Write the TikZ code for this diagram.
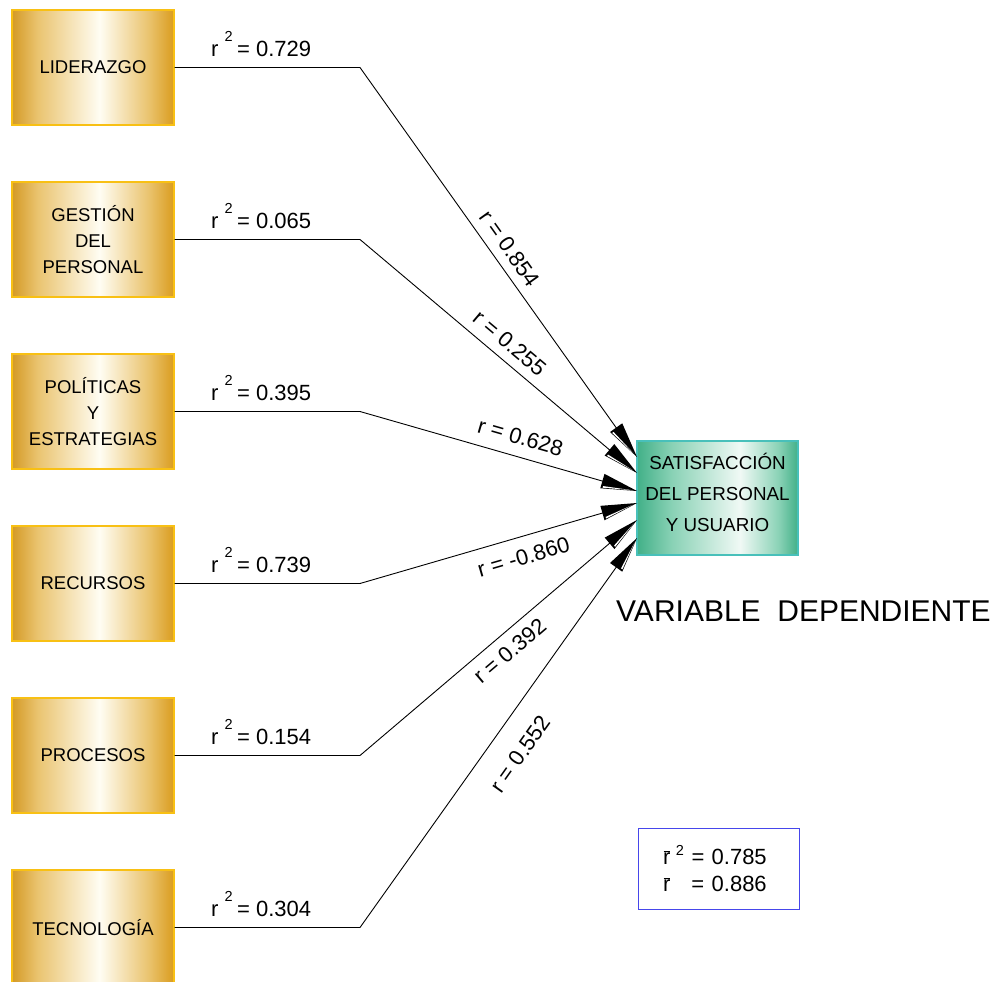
\documentclass[tikz,border=0pt]{standalone}
\usepackage{fontspec}
\setmainfont{Liberation Sans}
\usetikzlibrary{arrows.meta}

% colour palette
\definecolor{goldDark}{RGB}{212,154,38}
\definecolor{goldDarkR}{RGB}{218,156,30}
\definecolor{goldMid}{RGB}{234,196,112}
\definecolor{goldLight}{RGB}{255,253,243}
\definecolor{goldEdge}{RGB}{248,192,20}
\definecolor{greenDark}{RGB}{66,176,136}
\definecolor{greenMid}{RGB}{138,210,182}
\definecolor{greenLight}{RGB}{240,249,245}
\definecolor{greenEdge}{RGB}{72,192,186}
\definecolor{legendBlue}{RGB}{70,70,235}

% metallic gold and green fills, light band a little right of centre
\pgfdeclarehorizontalshading{goldbar}{100bp}{color(0bp)=(goldDark); color(25bp)=(goldDark); color(33bp)=(goldMid); color(52bp)=(goldLight); color(67bp)=(goldMid); color(75bp)=(goldDarkR); color(100bp)=(goldDarkR)}
\pgfdeclarehorizontalshading{greenbar}{100bp}{color(0bp)=(greenDark); color(25bp)=(greenDark); color(36bp)=(greenMid); color(57bp)=(greenLight); color(69bp)=(greenMid); color(75bp)=(greenDark); color(100bp)=(greenDark)}

% long black wedge with a thin light sliver along its lower edge
\pgfdeclarearrow{
  name = Wedge3D,
  setup code = {
    \pgfarrowssettipend{0pt}
    \pgfarrowssetlineend{-12pt}
    \pgfarrowssetbackend{-36pt}
    \pgfarrowssetvisualbackend{-36pt}
    \pgfarrowshullpoint{0pt}{0pt}
    \pgfarrowshullpoint{-36pt}{7.5pt}
    \pgfarrowshullpoint{-36pt}{-7.5pt}
  },
  drawing code = {
    \pgfsetfillcolor{black}
    \pgfpathmoveto{\pgfqpoint{0pt}{0pt}}
    \pgfpathlineto{\pgfqpoint{-36pt}{7.5pt}}
    \pgfpathlineto{\pgfqpoint{-36pt}{-7.5pt}}
    \pgfpathclose
    \pgfusepathqfill
    \pgfsetfillcolor{white}
    \pgfpathmoveto{\pgfqpoint{-5pt}{-0.6pt}}
    \pgfpathlineto{\pgfqpoint{-34pt}{-4.6pt}}
    \pgfpathlineto{\pgfqpoint{-34pt}{-6.3pt}}
    \pgfpathclose
    \pgfusepathqfill
  }
}

% r with a bar over it
\newcommand\rbarglyph{\makebox[0pt][l]{\hspace{0.5pt}\rule[12.6pt]{6.5pt}{0.9pt}}r}
\newcommand\sqmark{\raisebox{15.5pt}{\fontsize{14.5}{14.5}\selectfont 2}}

\tikzset{
  srcbox/.style={draw=goldEdge, line width=1.2pt, shading=goldbar,
    minimum width=162pt, minimum height=115pt, inner sep=0pt,
    align=center, font=\fontsize{18.5}{26}\selectfont},
  dstbox/.style={draw=greenEdge, line width=1.6pt, shading=greenbar,
    minimum width=161pt, minimum height=114pt, inner sep=0pt,
    align=center, text depth=12pt, font=\fontsize{18.8}{31}\selectfont},
  link/.style={draw=black, line width=0.9pt, line join=miter},
  arr/.style={-{Wedge3D}},
  rlab/.style={sloped, inner sep=1pt, font=\fontsize{22}{22}\selectfont},
  sqlab/.style={anchor=base west, inner sep=0pt, font=\fontsize{22}{22}\selectfont},
  legend/.style={draw=legendBlue, line width=1pt, minimum width=161pt,
    minimum height=81pt, inner sep=0pt, text width=111pt, align=left,
    font=\fontsize{22}{27}\selectfont},
}

\begin{document}
\begin{tikzpicture}[x=1pt,y=-1pt]
\useasboundingbox (0,0) rectangle (1004,982);
\clip (0,0) rectangle (1004,982);

% independent variables
\node[srcbox] (lid) at (93,67.5)  {LIDERAZGO};
\node[srcbox] (ges) at (93,239.5) {GESTIÓN\\DEL\\PERSONAL};
\node[srcbox] (pol) at (93,411.5) {POLÍTICAS\\Y\\ESTRATEGIAS};
\node[srcbox] (rec) at (93,583.5) {RECURSOS};
\node[srcbox] (pro) at (93,755.5) {PROCESOS};
\node[srcbox] (tec) at (93,927.5) {TECNOLOGÍA};

% dependent variable
\node[dstbox] (sat) at (717.5,498) {SATISFACCIÓN\\DEL PERSONAL\\Y USUARIO};
\node[anchor=base west, inner sep=0pt, font=\fontsize{30}{30}\selectfont]
  (dep) at (616,621) {VARIABLE\ \ DEPENDIENTE};

% elbows where the horizontal runs turn towards the target
\coordinate (b1) at (360,67.5);
\coordinate (b2) at (360,239.5);
\coordinate (b3) at (360,411.5);
\coordinate (b4) at (360,583.5);
\coordinate (b5) at (360,755.5);
\coordinate (b6) at (360,927.5);

% arrow ends on the left side of the target box
\coordinate (t1) at (637,457);
\coordinate (t2) at (637,473);
\coordinate (t3) at (637,491);
\coordinate (t4) at (637,503);
\coordinate (t5) at (637,520);
\coordinate (t6) at (637,538);

% connectors with correlation labels
\draw[link,arr] (lid.east) -- (b1) -- node[rlab, pos=0.49, above=8pt] {r = 0.854} (t1);
\draw[link,arr] (ges.east) -- (b2) -- node[rlab, pos=0.50, above=8pt] {r = 0.255} (t2);
\draw[link,arr] (pol.east) -- (b3) -- node[rlab, pos=0.56, above=10.5pt] {r = 0.628} (t3);
\draw[link,arr] (rec.east) -- (b4) -- node[rlab, pos=0.57, below=11pt] {r = -0.860} (t4);
\draw[link,arr] (pro.east) -- (b5) -- node[rlab, pos=0.50, below=8pt] {r = 0.392} (t5);
\draw[link,arr] (tec.east) -- (b6) -- node[rlab, pos=0.49, below=21pt] {r = 0.552} (t6);

% coefficients of determination
\node[sqlab] (q1) at (211,56.5)  {r\hspace{6pt}\sqmark\hspace{4.5pt}= 0.729};
\node[sqlab] (q2) at (211,228.5) {r\hspace{6pt}\sqmark\hspace{4.5pt}= 0.065};
\node[sqlab] (q3) at (211,400.5) {r\hspace{6pt}\sqmark\hspace{4.5pt}= 0.395};
\node[sqlab] (q4) at (211,572.5) {r\hspace{6pt}\sqmark\hspace{4.5pt}= 0.739};
\node[sqlab] (q5) at (211,744.5) {r\hspace{6pt}\sqmark\hspace{4.5pt}= 0.154};
\node[sqlab] (q6) at (211,916.5) {r\hspace{6pt}\sqmark\hspace{4.5pt}= 0.304};

% overall coefficients
\node[legend] (leg) at (718.5,868.5)
  {\makebox[28.5pt][l]{\rbarglyph\hspace{5.5pt}\raisebox{9.5pt}{\fontsize{14.5}{14.5}\selectfont 2}}= 0.785\\
   \makebox[28.5pt][l]{\rbarglyph}= 0.886};
\end{tikzpicture}
\end{document}
